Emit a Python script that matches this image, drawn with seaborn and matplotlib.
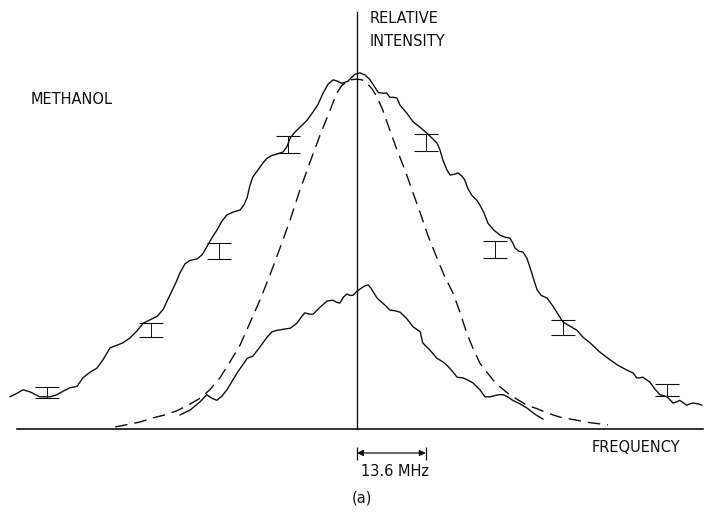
import numpy as np
import pandas as pd
import matplotlib
matplotlib.use("Agg")
import matplotlib.pyplot as plt
import seaborn as sns

# frequency offset in MHz, intensity in units of the vertical tick spacing
upper_x = [-68.6, -67.2, -66.0, -64.6, -62.7, -60.7, -59.3, -58.1, -56.7, -55.3,
           -54.2, -52.8, -51.4, -50.2, -48.8, -47.4, -46.3, -44.9, -43.5, -42.3,
           -40.9, -39.5, -38.3, -37.0, -35.8, -35.0, -34.0, -33.0, -31.6, -30.6,
           -29.7, -28.7, -27.7, -26.7, -25.7, -24.5, -23.1, -22.3, -21.7, -21.2,
           -20.6, -19.6, -18.6, -17.8, -16.8, -15.8, -14.6, -13.8, -13.2, -12.3,
           -11.3, -9.9, -8.7, -7.7, -6.7, -5.7, -4.7, -3.8, -3.0, -1.8,
           -1.0, -0.4, 0.6, 1.6, 2.6, 3.4, 4.2, 5.1, 5.9, 6.5,
           7.3, 7.9, 8.5, 9.9, 11.1, 12.5, 13.8, 14.8, 15.8, 16.4,
           17.0, 17.8, 18.4, 19.2, 20.0, 20.8, 21.3, 21.9, 22.7, 23.7,
           24.3, 25.1, 25.9, 27.1, 28.3, 29.3, 30.2, 30.8, 31.2, 32.0,
           32.8, 33.6, 34.2, 34.8, 35.6, 36.4, 37.6, 38.7, 40.1, 40.7,
           42.1, 43.5, 44.7, 46.1, 48.0, 50.0, 51.6, 53.4, 54.6, 55.3,
           55.9, 56.5, 57.3, 57.9, 58.9, 59.9, 61.3, 62.5, 63.3, 63.8,
           64.6, 65.2, 65.8, 66.4, 67.4, 68.2]
upper_y = [0.46, 0.51, 0.56, 0.53, 0.46, 0.46, 0.49, 0.54, 0.59, 0.61,
           0.73, 0.81, 0.87, 0.99, 1.16, 1.20, 1.23, 1.30, 1.40, 1.51,
           1.56, 1.61, 1.71, 1.91, 2.09, 2.23, 2.36, 2.41, 2.43, 2.49,
           2.60, 2.73, 2.84, 2.97, 3.06, 3.10, 3.13, 3.21, 3.31, 3.47,
           3.60, 3.70, 3.80, 3.87, 3.91, 3.93, 3.96, 4.04, 4.16, 4.24,
           4.31, 4.41, 4.53, 4.64, 4.80, 4.93, 4.99, 4.97, 4.94, 4.97,
           5.03, 5.07, 5.09, 5.06, 4.99, 4.90, 4.81, 4.80, 4.80, 4.74,
           4.74, 4.73, 4.63, 4.51, 4.39, 4.31, 4.23, 4.16, 4.09, 3.99,
           3.84, 3.70, 3.63, 3.64, 3.66, 3.61, 3.56, 3.44, 3.34, 3.27,
           3.20, 3.09, 2.94, 2.84, 2.77, 2.74, 2.73, 2.66, 2.59, 2.54,
           2.53, 2.44, 2.31, 2.17, 1.99, 1.91, 1.87, 1.76, 1.60, 1.53,
           1.47, 1.41, 1.31, 1.23, 1.10, 0.99, 0.91, 0.84, 0.80, 0.73,
           0.73, 0.74, 0.70, 0.67, 0.57, 0.49, 0.46, 0.37, 0.39, 0.41,
           0.37, 0.34, 0.36, 0.37, 0.36, 0.34]

lower_x = [-35.0, -33.0, -31.0, -29.7, -28.7, -27.7, -26.7, -25.7, -23.7, -21.7,
           -20.6, -19.2, -17.8, -16.8, -15.8, -14.2, -13.2, -11.9, -10.9, -10.3,
           -9.3, -8.7, -7.3, -5.9, -4.7, -4.0, -3.4, -2.6, -2.0, -1.4,
           -0.8, 0.0, 0.6, 1.4, 2.2, 2.8, 3.2, 4.0, 4.9, 5.7,
           6.5, 7.5, 8.5, 9.7, 11.1, 12.1, 12.5, 13.0, 14.4, 15.8,
           17.0, 17.8, 18.8, 19.8, 21.0, 21.9, 22.9, 24.3, 25.3, 26.3,
           26.9, 27.9, 28.9, 29.8, 30.8, 32.2, 33.6, 35.2, 36.8]
lower_y = [0.20, 0.27, 0.39, 0.49, 0.44, 0.41, 0.47, 0.56, 0.80, 1.01,
           1.04, 1.17, 1.31, 1.39, 1.41, 1.43, 1.44, 1.51, 1.61, 1.66,
           1.64, 1.64, 1.74, 1.83, 1.84, 1.81, 1.80, 1.89, 1.93, 1.91,
           1.91, 1.97, 2.00, 2.04, 2.06, 2.01, 1.96, 1.87, 1.81, 1.76,
           1.70, 1.69, 1.67, 1.59, 1.46, 1.41, 1.39, 1.23, 1.13, 1.01,
           0.96, 0.91, 0.83, 0.74, 0.73, 0.70, 0.66, 0.56, 0.46, 0.46,
           0.47, 0.49, 0.49, 0.46, 0.41, 0.36, 0.30, 0.21, 0.14]

dashed_x = [-47.8, -44.9, -42.9, -40.3, -38.0, -35.6, -33.4, -31.0, -29.1, -27.1,
            -25.1, -23.1, -21.2, -19.2, -17.2, -15.2, -13.2, -11.3, -9.3, -7.3,
            -5.3, -4.0, -3.0, -1.4, 0.0, 1.0, 2.0, 3.0, 4.0, 5.1,
            6.5, 7.9, 9.5, 10.9, 12.5, 14.0, 16.0, 17.4, 19.0, 20.4,
            21.7, 22.9, 24.3, 25.7, 26.9, 28.3, 30.2, 32.2, 33.6, 35.6,
            37.6, 40.1, 43.1, 46.1, 49.6]
dashed_y = [0.03, 0.07, 0.10, 0.16, 0.20, 0.26, 0.34, 0.44, 0.56, 0.73,
            0.96, 1.20, 1.51, 1.84, 2.20, 2.59, 2.99, 3.41, 3.81, 4.20,
            4.56, 4.80, 4.91, 4.99, 5.00, 4.99, 4.94, 4.86, 4.74, 4.56,
            4.27, 3.99, 3.70, 3.41, 3.09, 2.77, 2.41, 2.17, 1.94, 1.66,
            1.37, 1.16, 0.94, 0.81, 0.70, 0.60, 0.49, 0.40, 0.34, 0.29,
            0.23, 0.17, 0.13, 0.09, 0.06]

# error bars on the upper trace
err_x = [-61.2, -40.8, -27.2, -13.6, 13.6, 27.2, 40.8, 61.2]
err_lo = [0.44, 1.31, 2.43, 3.94, 3.97, 2.44, 1.34, 0.47]
err_hi = [0.60, 1.51, 2.66, 4.19, 4.21, 2.69, 1.56, 0.64]

freq_ticks = [-54.4, -40.8, -27.2, -13.6, 0.0, 13.6, 27.2, 40.8, 54.4, 68.0]
int_ticks = [1, 2, 3, 4]
scale_mhz = 13.6

sns.set_style("white")
plt.rcParams["font.family"] = ["DejaVu Sans"]

W, H = 705, 512
fig = plt.figure(figsize=(W / 100, H / 100), dpi=100)
ax = fig.add_axes([17 / W, 83 / H, 686 / W, 417 / H])

ink = "#111111"
sns.lineplot(x=upper_x, y=upper_y, ax=ax, color=ink, lw=1.0, sort=False, estimator=None)
sns.lineplot(x=lower_x, y=lower_y, ax=ax, color=ink, lw=1.0, sort=False, estimator=None)
sns.lineplot(x=dashed_x, y=dashed_y, ax=ax, color=ink, lw=1.0, sort=False,
             estimator=None, linestyle=(0, (9, 5)))
for ln in ax.lines:
    ln.set_clip_on(False)

err = pd.DataFrame({"x": err_x, "lo": err_lo, "hi": err_hi})
mid = (err["lo"] + err["hi"]) / 2
half = (err["hi"] - err["lo"]) / 2
ax.errorbar(err["x"], mid, yerr=half, fmt="none", ecolor=ink, elinewidth=0.7,
            capsize=8.5, capthick=0.8)

ax.set_xlim(-67.2, 68.4)
ax.set_ylim(0, 5.96)
for s in ["top", "right"]:
    ax.spines[s].set_visible(False)
ax.spines["left"].set_position(("data", 0))
ax.spines["left"].set_linewidth(1.0)
ax.spines["bottom"].set_linewidth(1.2)
ax.spines["left"].set_color(ink)
ax.spines["bottom"].set_color(ink)

ax.set_xticks(freq_ticks)
ax.set_yticks(int_ticks)
ax.tick_params(axis="x", direction="in", length=7, width=0.8, color=ink,
               labelbottom=False)
ax.tick_params(axis="y", direction="inout", length=14, width=0.8, color=ink,
               labelleft=False)
ax.set_xlabel("")
ax.set_ylabel("")

# 13.6 MHz scale bar below the axis
ax.vlines([0, scale_mhz], -0.443, -0.257, color=ink, lw=0.9, clip_on=False)
ax.annotate("", xy=(scale_mhz, -0.343), xytext=(0, -0.343),
            arrowprops=dict(arrowstyle="<|-|>", color=ink, lw=0.9,
                            mutation_scale=9, shrinkA=0, shrinkB=0),
            annotation_clip=False)


def px(x, y):
    return x / W, 1 - y / H


txt = dict(color=ink, fontsize=10.5)
fig.text(*px(370, 30), "RELATIVE\nINTENSITY", ha="left", va="center",
         linespacing=1.65, **txt)
fig.text(*px(72, 100), "METHANOL", ha="center", va="center", **txt)
fig.text(*px(636, 448), "FREQUENCY", ha="center", va="center", **txt)
fig.text(*px(395, 471), "13.6 MHz", ha="center", va="center", **txt)
fig.text(*px(362, 498), "(a)", ha="center", va="center", **txt)

fig.savefig("out.png", dpi=100)
